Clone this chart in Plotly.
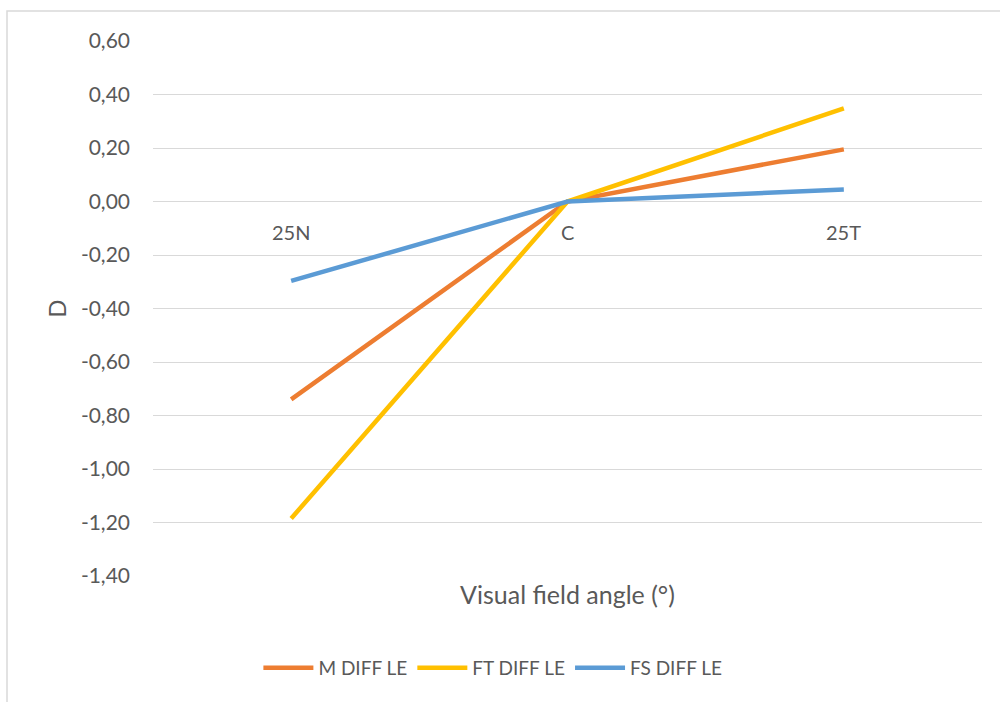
import plotly.graph_objects as go

# Visual field positions and per-group differences (D)
categories = ["25N", "C", "25T"]
m_diff_le = [-0.74, 0.0, 0.195]
ft_diff_le = [-1.185, 0.0, 0.348]
fs_diff_le = [-0.297, 0.0, 0.045]

y_ticks = [0.6, 0.4, 0.2, 0.0, -0.2, -0.4, -0.6, -0.8, -1.0, -1.2, -1.4]
y_tick_text = [f"{v:.2f}".replace(".", ",") for v in y_ticks]

series = [
    ("M DIFF LE", m_diff_le, "#ED7D31"),
    ("FT DIFF LE", ft_diff_le, "#FFC000"),
    ("FS DIFF LE", fs_diff_le, "#5B9BD5"),
]

FONT = "Lato, 'Open Sans', sans-serif"
TEXT = "#595959"
GRID = "#D9D9D9"

# Plot area in pixels, used to place the chart border in paper units
PLOT_L, PLOT_R, PLOT_T, PLOT_B = 153, 982, 41, 576
PW, PH = PLOT_R - PLOT_L, PLOT_B - PLOT_T

fig = go.Figure()
for name, vals, color in series:
    fig.add_trace(go.Scatter(
        x=categories, y=vals, name=name, mode="lines",
        line=dict(color=color, width=4.5),
    ))

# Category labels sit just under the zero line, as in a crossing axis
for cat in categories:
    fig.add_annotation(
        x=cat, y=0, xref="x", yref="y", text=cat, showarrow=False,
        yanchor="top", yshift=-16, font=dict(family=FONT, size=20, color=TEXT),
    )

fig.update_layout(
    width=1000, height=702,
    margin=dict(l=PLOT_L, r=1000 - PLOT_R, t=PLOT_T, b=702 - PLOT_B),
    paper_bgcolor="white", plot_bgcolor="white",
    font=dict(family=FONT, size=19, color=TEXT),
    showlegend=True,
    legend=dict(
        orientation="h", x=0.41, xanchor="center", y=-0.172, yanchor="middle",
        font=dict(family=FONT, size=19, color=TEXT),
        itemwidth=50, tracegroupgap=0,
    ),
    xaxis=dict(
        showticklabels=False, showgrid=False, zeroline=False, showline=False,
        ticks="", range=[-0.5, 2.5],
        title=dict(text="Visual field angle (°)", standoff=10,
                   font=dict(family=FONT, size=25, color=TEXT)),
    ),
    yaxis=dict(
        range=[-1.4, 0.6], tickvals=y_ticks, ticktext=y_tick_text,
        showgrid=True, gridcolor=GRID, gridwidth=1.3, zeroline=False,
        showline=False, ticks="", ticklabelstandoff=22,
        tickfont=dict(family=FONT, size=21, color=TEXT),
        title=dict(text="D", standoff=7,
                   font=dict(family=FONT, size=24, color=TEXT)),
    ),
    shapes=[dict(
        type="rect", xref="paper", yref="paper",
        x0=(7 - PLOT_L) / PW, x1=(1010 - PLOT_L) / PW,
        y0=(PLOT_B - 720) / PH, y1=(PLOT_B - 11) / PH,
        line=dict(color="#D9D9D9", width=1.5), fillcolor="rgba(0,0,0,0)",
        layer="below",
    )],
)

fig.write_html("out.html")
